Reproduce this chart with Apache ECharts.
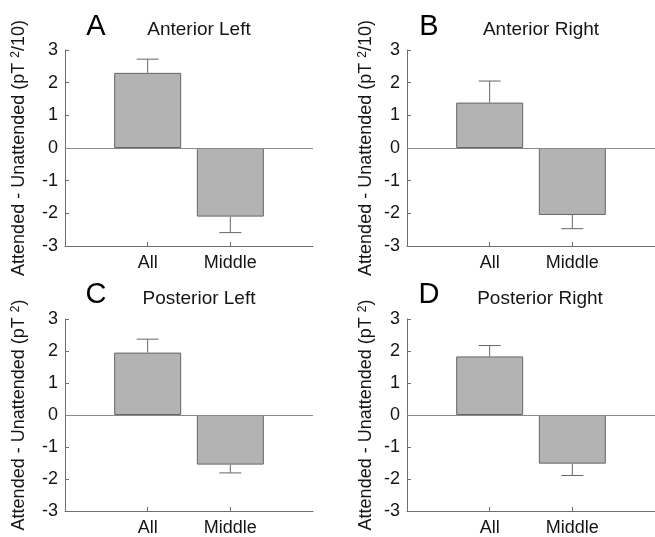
<!DOCTYPE html>
<html>
<head>
<meta charset="utf-8">
<script src="https://cdn.jsdelivr.net/npm/echarts@6/dist/echarts.min.js"></script>
<style>html,body{margin:0;padding:0;background:#fff}#c{width:655px;height:537px}</style>
</head>
<body>
<div id="c"></div>
<script>
// ---- data ----
var categories = ['All', 'Middle'];
var panelLetters = ['A', 'B', 'C', 'D'];
var panelTitles = ['Anterior Left', 'Anterior Right', 'Posterior Left', 'Posterior Right'];
var yTicks = [-3, -2, -1, 0, 1, 2, 3];
var valuesA = [2.30, -2.10];
var errorsA = [0.42, 0.49];
var valuesB = [1.39, -2.05];
var errorsB = [0.66, 0.42];
var valuesC = [1.95, -1.55];
var errorsC = [0.42, 0.26];
var valuesD = [1.83, -1.52];
var errorsD = [0.34, 0.37];
var yLabelTop = 'Attended - Unattended (pT {sup|2}/10)';
var yLabelBottom = 'Attended - Unattended (pT {sup|2})';

var panelValues = [valuesA, valuesB, valuesC, valuesD];
var panelErrors = [errorsA, errorsB, errorsC, errorsD];
var yLabels = [yLabelTop, yLabelTop, yLabelBottom, yLabelBottom];

// ---- layout ----
var FONT = 'Liberation Sans, Arial, Helvetica, sans-serif';
var AXIS = '#6e6e6e';
var TEXT = '#151515';
var grids = [
  {left: 65, top: 50, width: 248, height: 196},
  {left: 407, top: 50, width: 248, height: 196},
  {left: 65, top: 319, width: 248, height: 196},
  {left: 407, top: 319, width: 248, height: 196}
];
var letterPos = [[96, 27], [429, 27], [96, 295], [429, 295]];
var titlePos = [[199, 30], [541, 30], [199, 299], [540, 299]];
var nameGaps = [37, 32, 37, 32];

var option = {
  backgroundColor: '#fff',
  animation: false,
  title: [],
  grid: [],
  xAxis: [],
  yAxis: [],
  series: []
};

for (var i = 0; i < 4; i++) {
  option.title.push({
    text: panelLetters[i], left: letterPos[i][0], top: letterPos[i][1],
    textAlign: 'center', textVerticalAlign: 'middle', padding: 0,
    textStyle: {fontFamily: FONT, fontSize: 29, fontWeight: 'normal', color: '#000'}
  });
  option.title.push({
    text: panelTitles[i], left: titlePos[i][0], top: titlePos[i][1],
    textAlign: 'center', textVerticalAlign: 'middle', padding: 0,
    textStyle: {fontFamily: FONT, fontSize: 19, fontWeight: 'normal', color: TEXT}
  });
  option.grid.push(Object.assign({containLabel: false}, grids[i]));
  option.xAxis.push({
    type: 'value', gridIndex: i, min: 0, max: categories.length + 1, interval: 1,
    axisLine: {show: true, onZero: false, lineStyle: {color: AXIS, width: 1}},
    axisTick: {show: true, inside: true, length: 4, lineStyle: {color: AXIS},
               customValues: categories.map(function (c, k) { return k + 1; })},
    axisLabel: {show: true, margin: 8, fontFamily: FONT, fontSize: 18, color: TEXT,
                customValues: categories.map(function (c, k) { return k + 1; }),
                formatter: function (v) { return categories[Math.round(v) - 1] || ''; }},
    splitLine: {show: false}
  });
  option.yAxis.push({
    type: 'value', gridIndex: i, min: yTicks[0], max: yTicks[yTicks.length - 1], interval: 1,
    axisLine: {show: true, lineStyle: {color: AXIS, width: 1}},
    axisTick: {show: true, inside: true, length: 4, lineStyle: {color: AXIS}},
    axisLabel: {margin: 7, fontFamily: FONT, fontSize: 18, color: TEXT},
    splitLine: {show: false},
    name: yLabels[i], nameLocation: 'middle', nameRotate: 90, nameGap: nameGaps[i],
    nameTextStyle: {fontFamily: FONT, fontSize: 18, color: TEXT,
      rich: {sup: {fontFamily: FONT, fontSize: 12, color: TEXT, verticalAlign: 'top'}}}
  });
  var vals = panelValues[i];
  var errs = panelErrors[i];
  option.series.push({
    type: 'bar', xAxisIndex: i, yAxisIndex: i, barWidth: 67,
    data: vals.map(function (v, k) { return [k + 1, v]; }),
    itemStyle: {color: '#b3b3b3', borderColor: '#666', borderWidth: 1},
    markLine: {
      silent: true, symbol: 'none', label: {show: false},
      lineStyle: {color: '#8a8a8a', type: 'solid', width: 1},
      data: [{yAxis: 0}]
    },
    z: 2
  });
  option.series.push({
    type: 'custom', xAxisIndex: i, yAxisIndex: i, z: 3,
    data: vals.map(function (v, k) { return [k + 1, v, errs[k]]; }),
    renderItem: function (params, api) {
      var x = api.value(0), v = api.value(1), e = api.value(2);
      var s = v >= 0 ? 1 : -1;
      var p0 = api.coord([x, v]);
      var p1 = api.coord([x, v + s * e]);
      var half = 11;
      return {
        type: 'group',
        children: [
          {type: 'line', shape: {x1: p0[0], y1: p0[1], x2: p1[0], y2: p1[1]},
           style: {stroke: '#666', lineWidth: 1}},
          {type: 'line', shape: {x1: p1[0] - half, y1: p1[1], x2: p1[0] + half, y2: p1[1]},
           style: {stroke: '#666', lineWidth: 1}}
        ]
      };
    }
  });
}

var chart = echarts.init(document.getElementById('c'), null, {renderer: 'canvas'});
chart.setOption(option);
</script>
</body>
</html>
